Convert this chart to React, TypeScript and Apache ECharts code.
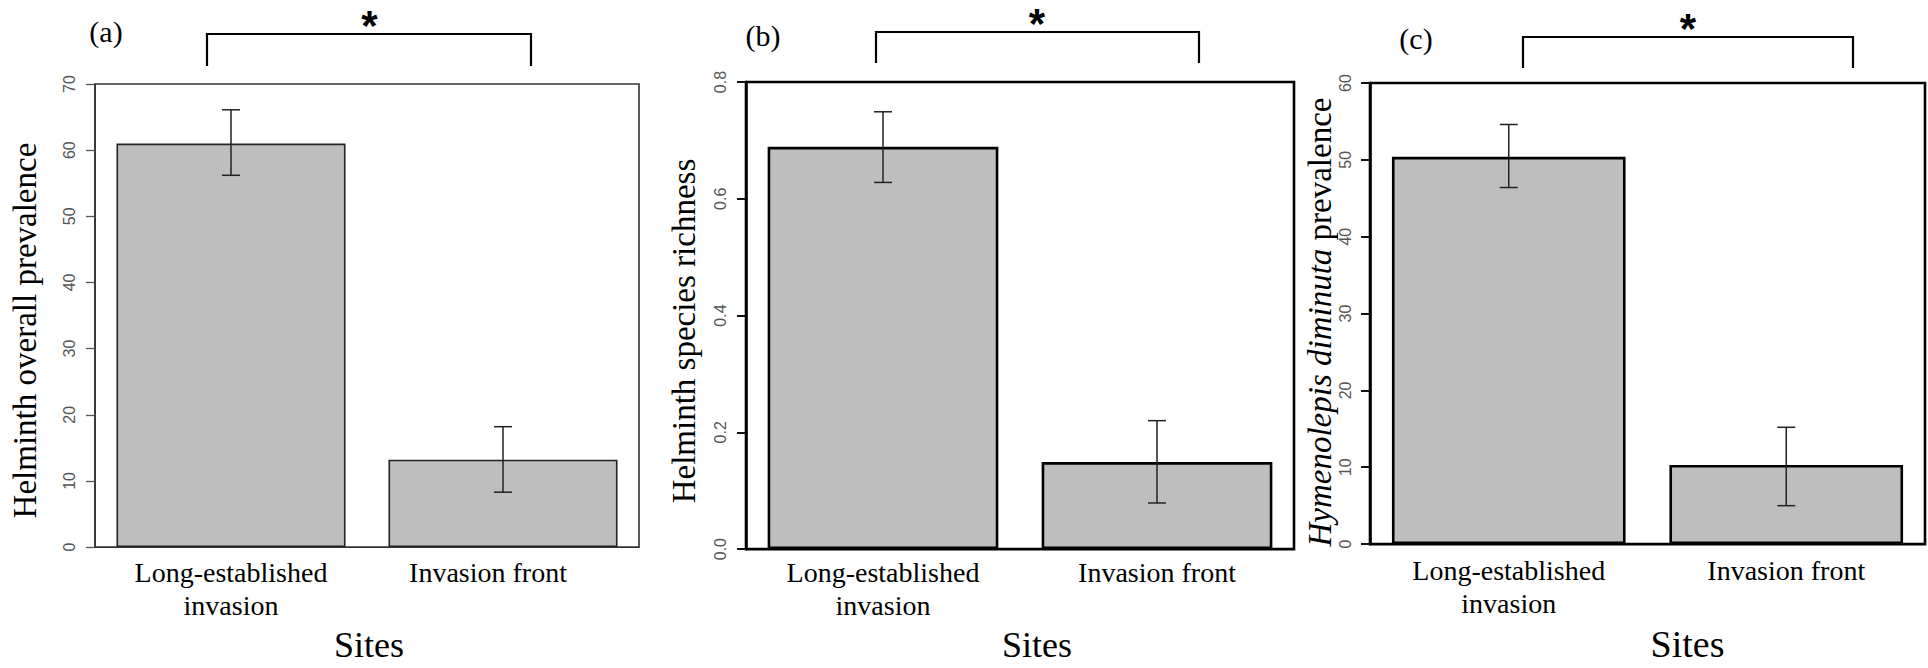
import React, { useEffect, useRef } from "react";
import * as echarts from "echarts";

// ---- data ----
const categories = ["Long-established\ninvasion", "Invasion front"];
const prevalenceMean = [61.0, 13.2];
const prevalenceLower = [56.2, 8.3];
const prevalenceUpper = [66.1, 18.2];
const richnessMean = [0.689, 0.149];
const richnessLower = [0.628, 0.079];
const richnessUpper = [0.749, 0.22];
const hymenolepisMean = [50.4, 10.3];
const hymenolepisLower = [46.4, 5.0];
const hymenolepisUpper = [54.6, 15.2];
const prevalenceTicks = { min: 0, max: 70, interval: 10 };
const richnessTicks = { min: 0, max: 0.8, interval: 0.2 };
const hymenolepisTicks = { min: 0, max: 60, interval: 10 };
const panelLabels = ["(a)", "(b)", "(c)"];
const yTitles = [
  "Helminth overall prevalence",
  "Helminth species richness",
  "{it|Hymenolepis diminuta} prevalence",
];
const xTitle = "Sites";
const significance = "*";

const SERIF = "Liberation Serif";
const SANS = "Liberation Sans";

type Panel = {
  mean: number[];
  lower: number[];
  upper: number[];
  ticks: { min: number; max: number; interval: number };
  yTitle: string;
  grid: { left: number; top: number; width: number; height: number };
  frameColor: string;
  frameWidth: number;
  tickColor: string;
  labelMargin: number;
  catMargin: number;
  yNameGap: number;
  yNamePad: number;
  xNameGap: number;
  xNameShift: number;
  xNameSize: number;
  digits: number;
  shiftSecond: boolean;
};

const panels: Panel[] = [
  {
    mean: prevalenceMean,
    lower: prevalenceLower,
    upper: prevalenceUpper,
    ticks: prevalenceTicks,
    yTitle: yTitles[0],
    grid: { left: 95, top: 84, width: 544, height: 486 },
    frameColor: "#333",
    frameWidth: 1.6,
    tickColor: "#555",
    labelMargin: 18,
    catMargin: 9,
    yNameGap: 54,
    yNamePad: 30,
    xNameGap: 55,
    xNameShift: 4,
    xNameSize: 36,
    digits: 0,
    shiftSecond: true,
  },
  {
    mean: richnessMean,
    lower: richnessLower,
    upper: richnessUpper,
    ticks: richnessTicks,
    yTitle: yTitles[1],
    grid: { left: 746, top: 82, width: 548, height: 491 },
    frameColor: "#000",
    frameWidth: 2.6,
    tickColor: "#111",
    labelMargin: 18,
    catMargin: 7,
    yNameGap: 46,
    yNamePad: 31,
    xNameGap: 50,
    xNameShift: 34,
    xNameSize: 36,
    digits: 1,
    shiftSecond: false,
  },
  {
    mean: hymenolepisMean,
    lower: hymenolepisLower,
    upper: hymenolepisUpper,
    ticks: hymenolepisTicks,
    yTitle: yTitles[2],
    grid: { left: 1370, top: 83, width: 555, height: 496 },
    frameColor: "#000",
    frameWidth: 2.6,
    tickColor: "#111",
    labelMargin: 17,
    catMargin: 10,
    yNameGap: 29,
    yNamePad: 17,
    xNameGap: 51,
    xNameShift: 80,
    xNameSize: 38,
    digits: 0,
    shiftSecond: false,
  },
];

const brackets = [
  { pts: [[207, 66], [207, 34], [531, 34], [531, 66]], star: [369.5, 25], label: [106, 31.5] },
  { pts: [[876, 63], [876, 32], [1199, 32], [1199, 63]], star: [1037, 23.5], label: [763, 35] },
  { pts: [[1523, 68], [1523, 37], [1853, 37], [1853, 68]], star: [1688, 28.5], label: [1416, 38.5] },
];

const catStyle = {
  fontFamily: SERIF,
  fontSize: 28,
  lineHeight: 33,
  color: "#000",
};

export default function App() {
  const ref = useRef<HTMLDivElement>(null);

  useEffect(() => {
    if (!ref.current) return;
    const chart = echarts.init(ref.current, undefined, { renderer: "svg" });

    const grids: any[] = [];
    const xAxes: any[] = [];
    const yAxes: any[] = [];
    const series: any[] = [];

    panels.forEach((p, i) => {
      grids.push({
        ...p.grid,
        show: true,
        borderColor: p.frameColor,
        borderWidth: p.frameWidth,
        backgroundColor: "transparent",
        containLabel: false,
      });
      xAxes.push({
        type: "category",
        gridIndex: i,
        data: categories,
        axisLine: { show: false },
        axisTick: { show: false },
        axisLabel: {
          interval: 0,
          margin: p.catMargin,
          ...catStyle,
          formatter: (v: string, idx: number) => {
            const key = p.shiftSecond && idx === 1 ? "s" : "n";
            return v
              .split("\n")
              .map((line) => `{${key}|${line}}`)
              .join("\n");
          },
          rich: {
            n: { ...catStyle },
            s: { ...catStyle, padding: [0, 30, 0, 0] },
          },
        },
        name: xTitle,
        nameLocation: "middle",
        nameGap: p.xNameGap,
        nameTextStyle: {
          fontFamily: SERIF,
          fontSize: p.xNameSize,
          lineHeight: p.xNameSize,
          color: "#000",
          padding: [0, 0, 0, p.xNameShift],
        },
      });
      yAxes.push({
        type: "value",
        gridIndex: i,
        min: p.ticks.min,
        max: p.ticks.max,
        interval: p.ticks.interval,
        splitLine: { show: false },
        axisLine: {
          show: true,
          lineStyle: { color: p.frameColor, width: p.frameWidth },
        },
        axisTick: {
          show: true,
          length: 9,
          lineStyle: { color: p.tickColor, width: p.frameWidth > 2 ? 2 : 1.3 },
        },
        axisLabel: {
          rotate: 90,
          margin: p.labelMargin,
          color: "#555",
          fontFamily: SANS,
          fontSize: 16,
          lineHeight: 16,
          formatter: (v: number) => v.toFixed(p.digits),
        },
        name: p.yTitle,
        nameLocation: "middle",
        nameRotate: 90,
        nameGap: p.yNameGap,
        nameTextStyle: {
          fontFamily: SERIF,
          fontSize: 33,
          lineHeight: 33,
          color: "#000",
          padding: [0, p.yNamePad, 0, 0],
          rich: {
            it: {
              fontFamily: SERIF,
              fontStyle: "italic",
              fontSize: 33,
              lineHeight: 33,
              color: "#000",
            },
          },
        },
      });
      series.push({
        type: "bar",
        xAxisIndex: i,
        yAxisIndex: i,
        data: p.mean,
        barWidth: "84.2%",
        silent: true,
        itemStyle: {
          color: "#BEBEBE",
          borderColor: p.frameWidth > 2 ? "#000" : "#222",
          borderWidth: p.frameWidth > 2 ? 2.6 : 1.6,
        },
      });
      series.push({
        type: "custom",
        xAxisIndex: i,
        yAxisIndex: i,
        silent: true,
        z: 5,
        data: categories.map((_, k) => [k, p.lower[k], p.upper[k]]),
        encode: { x: 0, y: [1, 2] },
        renderItem: (_params: any, api: any) => {
          const lo = api.coord([api.value(0), api.value(1)]);
          const hi = api.coord([api.value(0), api.value(2)]);
          const cap = 9;
          const style = { stroke: "#222", lineWidth: 1.5 };
          return {
            type: "group",
            children: [
              { type: "line", shape: { x1: lo[0], y1: lo[1], x2: hi[0], y2: hi[1] }, style },
              { type: "line", shape: { x1: hi[0] - cap, y1: hi[1], x2: hi[0] + cap, y2: hi[1] }, style },
              { type: "line", shape: { x1: lo[0] - cap, y1: lo[1], x2: lo[0] + cap, y2: lo[1] }, style },
            ],
          };
        },
      });
    });

    const graphics: any[] = [];
    brackets.forEach((b, i) => {
      graphics.push({
        type: "polyline",
        shape: { points: b.pts },
        style: { stroke: "#000", lineWidth: 2.2, fill: null },
        silent: true,
      });
      graphics.push({
        type: "text",
        x: b.star[0],
        y: b.star[1],
        style: {
          text: significance,
          fontFamily: SANS,
          fontWeight: "bold",
          fontSize: 42,
          fill: "#000",
          align: "center",
          verticalAlign: "middle",
        },
        silent: true,
      });
      graphics.push({
        type: "text",
        x: b.label[0],
        y: b.label[1],
        style: {
          text: panelLabels[i],
          fontFamily: SERIF,
          fontSize: 30,
          fill: "#000",
          align: "center",
          verticalAlign: "middle",
        },
        silent: true,
      });
    });

    chart.setOption({
      animation: false,
      backgroundColor: "#fff",
      textStyle: { fontFamily: SERIF },
      grid: grids,
      xAxis: xAxes,
      yAxis: yAxes,
      series,
      graphic: graphics,
    });

    return () => chart.dispose();
  }, []);

  return (
    <div
      ref={ref}
      style={{ position: "absolute", left: 0, top: 0, width: 1928, height: 668 }}
    />
  );
}
